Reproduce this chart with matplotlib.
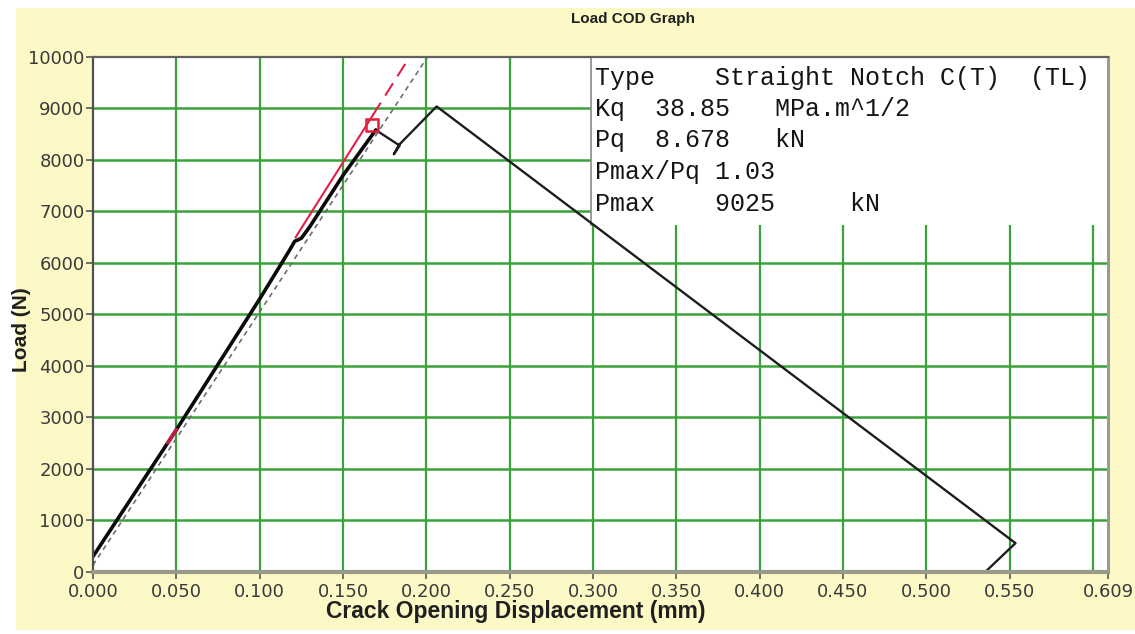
import numpy as np
import matplotlib
matplotlib.use("Agg")
import matplotlib.pyplot as plt
from matplotlib.patches import Rectangle

# ---data---
# loading part (thick black)
load_cod = [0.0, 0.05, 0.10, 0.118, 0.121, 0.125, 0.13, 0.15, 0.1697]
load_n = [300, 2760, 5300, 6250, 6420, 6480, 6700, 7700, 8583]
# pop-in, max and unloading (thin black)
rest_cod = [0.1697, 0.1840, 0.1805, 0.1835, 0.2062, 0.5535, 0.536]
rest_n = [8583, 8280, 8110, 8290, 9040, 560, 20]
# fitted line (red) and secant line (gray)
red_cod = [0.1216, 0.1900]
red_n = [6500, 10000]
red_split = 0.168
sec_cod = [0.0, 0.2007]
sec_n = [134, 10000]
red_mark_cod = [0.045, 0.050]
pq_cod = 0.1675
pq_n = 8678

x_ticks = [0.0, 0.05, 0.10, 0.15, 0.20, 0.25, 0.30, 0.35, 0.40, 0.45, 0.50, 0.55, 0.609]
x_grid = [0.05, 0.10, 0.15, 0.20, 0.25, 0.30, 0.35, 0.40, 0.45, 0.50, 0.55, 0.60]
y_ticks = list(range(0, 10001, 1000))

box_cod = 0.2988
box_n = 6740
info_lines = [
    "Type    Straight Notch C(T)  (TL)",
    "Kq  38.85   MPa.m^1/2",
    "Pq  8.678   kN",
    "Pmax/Pq 1.03",
    "Pmax    9025     kN",
]
info_y = [9590, 8990, 8380, 7770, 7150]

YELLOW = '#fcf9c6'
GREEN = '#3aa23a'

fig = plt.figure(figsize=(11.35, 6.34), dpi=100, facecolor='white')
fig.patches.append(Rectangle((0.014, 0.006), 0.986, 0.981, transform=fig.transFigure,
                             facecolor=YELLOW, edgecolor='none', zorder=-10))
ax = fig.add_axes([0.0819, 0.0978, 0.8943, 0.8123])
ax.set_facecolor('white')
ax.set_xlim(0, 0.609)
ax.set_ylim(0, 10000)

# grid
for gx in x_grid:
    ax.axvline(gx, color=GREEN, lw=1.6, zorder=1)
for gy in y_ticks[1:-1]:
    ax.axhline(gy, color=GREEN, lw=1.8, zorder=1)

# info box
ax.add_patch(Rectangle((box_cod, box_n), 0.609 - box_cod, 10000 - box_n,
                       facecolor='white', edgecolor='none', zorder=2))
ax.plot([box_cod, box_cod], [box_n, 10000], color='#8a8a8a', lw=1.2, zorder=2)
for line, yy in zip(info_lines, info_y):
    ax.text(box_cod + 0.0025, yy, line, family='Liberation Mono', fontsize=18,
            va='center', ha='left', color='#151515', zorder=6)

# lines
ax.plot(sec_cod, sec_n, color='#6e6e6e', lw=1.2, ls=(0, (3, 2.5)), zorder=3)
red_k = (red_n[1] - red_n[0]) / (red_cod[1] - red_cod[0])
red_mid = red_n[0] + red_k * (red_split - red_cod[0])
ax.plot([red_cod[0], red_split], [red_n[0], red_mid], color='#e0204a', lw=1.5, zorder=3)
ax.plot([red_split, red_cod[1]], [red_mid, red_n[1]], color='#e0204a', lw=1.5,
        ls=(0, (7, 4)), zorder=3)
ax.plot(rest_cod, rest_n, color='#1e1e1e', lw=1.7, zorder=4)
ax.plot(load_cod, load_n, color='#0a0a0a', lw=2.6, zorder=4, solid_capstyle='round')
ax.plot(red_mark_cod, np.interp(red_mark_cod, load_cod, load_n), color='#c02040',
        lw=2.6, zorder=5)
ax.plot([pq_cod], [pq_n], marker='s', ms=9, mfc='none', mec='#e0203a', mew=1.8, zorder=5)

# axes styling
ax.set_xticks(x_ticks)
ax.set_xticklabels([f'{v:.3f}' for v in x_ticks])
ax.set_yticks(y_ticks)
ax.set_yticklabels([str(v) for v in y_ticks])
ax.tick_params(axis='both', which='major', direction='out', length=5, width=1.2,
               color='#555555', labelsize=13, labelcolor='#3a3a3a', pad=1)
ax.tick_params(axis='x', pad=3)
ax.tick_params(top=True, right=True, labeltop=False, labelright=False)
for tick in ax.xaxis.get_major_ticks() + ax.yaxis.get_major_ticks():
    tick.tick2line.set_markersize(-4)
    tick.tick2line.set_color('#888888')

ax.spines['left'].set_color('#505050')
ax.spines['left'].set_linewidth(1.6)
ax.spines['top'].set_color('#606060')
ax.spines['top'].set_linewidth(1.6)
ax.spines['right'].set_color('#9a9a9a')
ax.spines['right'].set_linewidth(2.2)
ax.spines['bottom'].set_color('#9a9a88')
ax.spines['bottom'].set_linewidth(3)
for s in ax.spines.values():
    s.set_zorder(7)

fig.text(0.558, 0.970, 'Load COD Graph', fontsize=11, fontweight='bold',
         ha='center', va='center', color='#202020', family='Liberation Sans')
fig.text(0.454, 0.035, 'Crack Opening Displacement (mm)', fontsize=16.5, fontweight='bold',
         ha='center', va='center', color='#202020', family='Liberation Sans')
fig.text(0.019, 0.48, 'Load (N)', fontsize=15, fontweight='bold', rotation=90,
         ha='center', va='center', color='#202020', family='Liberation Sans')

fig.savefig('out.png', dpi=100, facecolor=fig.get_facecolor())
